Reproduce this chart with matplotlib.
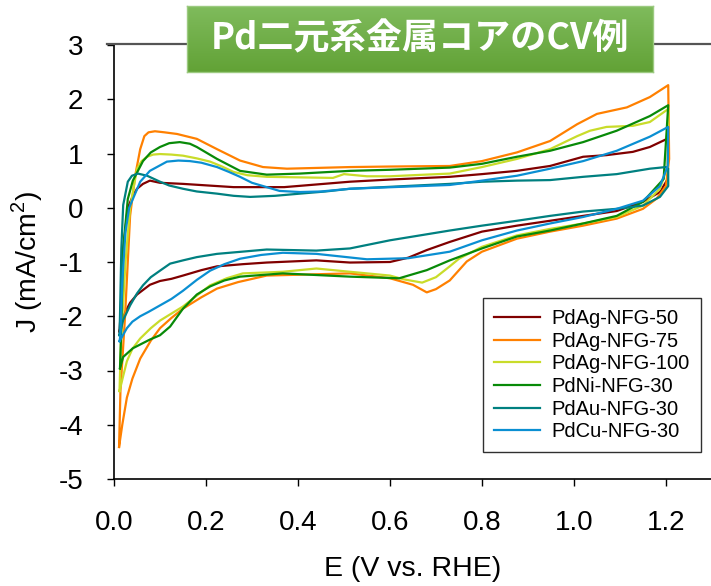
import numpy as np
import matplotlib
matplotlib.use("Agg")
import matplotlib.pyplot as plt
from matplotlib.lines import Line2D
from matplotlib.colors import LinearSegmentedColormap

plt.rcParams['font.family'] = ['Liberation Sans', 'DejaVu Sans']
plt.rcParams['mathtext.fontset'] = 'custom'
plt.rcParams['mathtext.rm'] = 'Liberation Sans'
plt.rcParams['axes.unicode_minus'] = False

title = 'Pd二元系金属コアのCV例'
labels = ['PdAg-NFG-50', 'PdAg-NFG-75', 'PdAg-NFG-100',
          'PdNi-NFG-30', 'PdAu-NFG-30', 'PdCu-NFG-30']
colors = ['#800000', '#ff8000', '#c9dc2a', '#088a08', '#008080', '#0a8fd2']

# anodic sweep (up) and cathodic sweep (dn), E in V vs RHE, J in mA/cm2
ag50_e_up = [0.012, 0.014, 0.02, 0.03, 0.04, 0.05, 0.063, 0.078, 0.10, 0.15, 0.26, 0.37,
             0.513, 0.60, 0.73, 0.80, 0.876, 0.948, 1.02, 1.071, 1.128, 1.165, 1.205]
ag50_j_up = [-2.28, -2.0, -0.75, 0.0, 0.2, 0.35, 0.44, 0.50, 0.46, 0.44, 0.38, 0.38,
             0.48, 0.52, 0.57, 0.62, 0.68, 0.77, 0.94, 0.97, 1.03, 1.12, 1.28]
ag50_e_dn = [1.205, 1.204, 1.187, 1.15, 1.093, 1.02, 0.948, 0.876, 0.80, 0.73, 0.68, 0.64,
             0.60, 0.513, 0.44, 0.332, 0.28, 0.224, 0.19, 0.15, 0.125, 0.10, 0.078, 0.05,
             0.035, 0.02, 0.012]
ag50_j_dn = [1.28, 0.53, 0.29, 0.11, -0.06, -0.15, -0.24, -0.33, -0.44, -0.63, -0.78, -0.92,
             -1.0, -1.01, -0.97, -1.01, -1.04, -1.08, -1.15, -1.25, -1.31, -1.35, -1.42, -1.6,
             -1.75, -2.0, -2.28]

ag75_e_up = [0.011, 0.014, 0.024, 0.035, 0.046, 0.057, 0.066, 0.075, 0.089, 0.11, 0.137, 0.18,
             0.224, 0.274, 0.324, 0.376, 0.513, 0.60, 0.73, 0.80, 0.876, 0.948, 1.007, 1.05,
             1.115, 1.165, 1.205]
ag75_j_up = [-4.41, -3.38, -2.0, -0.15, 0.59, 1.08, 1.32, 1.39, 1.41, 1.39, 1.36, 1.27,
             1.08, 0.87, 0.75, 0.72, 0.75, 0.76, 0.77, 0.86, 1.02, 1.23, 1.54, 1.73,
             1.85, 2.04, 2.26]
ag75_e_dn = [1.205, 1.207, 1.2, 1.18, 1.15, 1.093, 1.02, 0.948, 0.876, 0.80, 0.767, 0.73,
             0.70, 0.68, 0.65, 0.60, 0.513, 0.332, 0.27, 0.224, 0.19, 0.15, 0.125, 0.10,
             0.08, 0.057, 0.04, 0.028, 0.018, 0.011]
ag75_j_dn = [2.26, 0.9, 0.4, 0.17, -0.02, -0.2, -0.33, -0.44, -0.57, -0.81, -0.99, -1.34,
             -1.5, -1.56, -1.42, -1.3, -1.21, -1.25, -1.37, -1.49, -1.65, -1.86, -2.03, -2.22,
             -2.45, -2.78, -3.15, -3.5, -4.0, -4.41]

ag100_e_up = [0.012, 0.015, 0.025, 0.035, 0.05, 0.06, 0.072, 0.085, 0.10, 0.125, 0.15, 0.18,
              0.209, 0.235, 0.26, 0.29, 0.332, 0.476, 0.50, 0.55, 0.60, 0.65, 0.73, 0.80,
              0.876, 0.948, 1.007, 1.035, 1.071, 1.128, 1.165, 1.205]
ag100_j_up = [-3.38, -2.5, -1.0, 0.0, 0.72, 0.86, 0.94, 0.98, 0.99, 0.98, 0.96, 0.91,
              0.85, 0.76, 0.66, 0.6, 0.57, 0.55, 0.62, 0.58, 0.58, 0.6, 0.63, 0.75,
              0.9, 1.08, 1.32, 1.42, 1.49, 1.51, 1.58, 1.82]
ag100_e_dn = [1.205, 1.204, 1.187, 1.15, 1.093, 1.02, 0.948, 0.876, 0.80, 0.75, 0.73, 0.70,
              0.67, 0.63, 0.60, 0.513, 0.44, 0.367, 0.28, 0.245, 0.209, 0.18, 0.15, 0.125,
              0.10, 0.08, 0.057, 0.04, 0.028, 0.02, 0.012]
ag100_j_dn = [1.82, 0.77, 0.35, 0.04, -0.17, -0.29, -0.39, -0.51, -0.72, -0.94, -1.08, -1.28,
              -1.38, -1.32, -1.25, -1.18, -1.12, -1.18, -1.21, -1.3, -1.43, -1.62, -1.82, -1.95,
              -2.08, -2.22, -2.41, -2.6, -2.83, -3.1, -3.38]

ni30_e_up = [0.013, 0.015, 0.02, 0.03, 0.041, 0.063, 0.08, 0.10, 0.12, 0.143, 0.165, 0.18,
             0.224, 0.274, 0.332, 0.404, 0.513, 0.60, 0.73, 0.80, 0.876, 0.948, 1.02, 1.093,
             1.165, 1.205]
ni30_j_up = [-2.96, -2.46, -0.75, 0.16, 0.5, 0.86, 1.02, 1.12, 1.19, 1.21, 1.18, 1.12,
             0.9, 0.68, 0.61, 0.63, 0.68, 0.7, 0.74, 0.81, 0.94, 1.05, 1.21, 1.42,
             1.69, 1.89]
ni30_e_dn = [1.205, 1.195, 1.15, 1.093, 1.02, 0.948, 0.876, 0.80, 0.73, 0.68, 0.62, 0.513,
             0.367, 0.274, 0.24, 0.209, 0.18, 0.15, 0.122, 0.10, 0.078, 0.041, 0.02, 0.013]
ni30_j_dn = [1.89, 0.53, 0.11, -0.15, -0.29, -0.42, -0.53, -0.75, -0.97, -1.15, -1.3, -1.27,
             -1.21, -1.27, -1.34, -1.45, -1.6, -1.86, -2.19, -2.35, -2.43, -2.59, -2.75, -2.96]

au30_e_up = [0.012, 0.013, 0.016, 0.02, 0.03, 0.039, 0.052, 0.072, 0.10, 0.12, 0.15, 0.18,
             0.224, 0.26, 0.296, 0.35, 0.404, 0.46, 0.513, 0.73, 0.80, 0.876, 0.948, 1.02,
             1.093, 1.165, 1.2, 1.205]
au30_j_up = [-2.35, -2.0, -0.75, 0.05, 0.48, 0.59, 0.63, 0.59, 0.48, 0.41, 0.35, 0.3,
             0.26, 0.22, 0.2, 0.22, 0.26, 0.3, 0.35, 0.44, 0.48, 0.5, 0.51, 0.57,
             0.62, 0.72, 0.75, 0.72]
au30_e_dn = [1.205, 1.205, 1.187, 1.15, 1.093, 1.02, 0.948, 0.876, 0.80, 0.73, 0.60, 0.513,
             0.44, 0.332, 0.224, 0.18, 0.15, 0.122, 0.10, 0.08, 0.063, 0.05, 0.035, 0.02, 0.012]
au30_j_dn = [0.72, 0.4, 0.2, 0.04, -0.02, -0.07, -0.15, -0.24, -0.33, -0.42, -0.6, -0.75,
             -0.79, -0.77, -0.85, -0.91, -0.97, -1.03, -1.16, -1.28, -1.43, -1.58, -1.8,
             -2.07, -2.35]

cu30_e_up = [0.012, 0.014, 0.018, 0.025, 0.033, 0.041, 0.057, 0.078, 0.115, 0.14, 0.165, 0.19,
             0.224, 0.25, 0.274, 0.30, 0.332, 0.36, 0.404, 0.45, 0.513, 0.73, 0.80, 0.876,
             0.948, 1.02, 1.093, 1.165, 1.205]
cu30_j_up = [-2.46, -2.35, -1.36, -0.44, 0.0, 0.16, 0.48, 0.68, 0.85, 0.87, 0.86, 0.83,
             0.75, 0.66, 0.57, 0.46, 0.38, 0.31, 0.29, 0.3, 0.35, 0.42, 0.5, 0.59,
             0.72, 0.86, 1.05, 1.31, 1.49]
cu30_e_dn = [1.205, 1.204, 1.187, 1.15, 1.093, 1.02, 0.948, 0.876, 0.80, 0.73, 0.64, 0.55,
             0.44, 0.367, 0.32, 0.274, 0.24, 0.209, 0.18, 0.15, 0.125, 0.10, 0.075, 0.057,
             0.04, 0.028, 0.012]
cu30_j_dn = [1.49, 0.77, 0.4, 0.13, -0.02, -0.17, -0.29, -0.42, -0.6, -0.81, -0.93, -0.95,
             -0.85, -0.83, -0.87, -0.94, -1.04, -1.16, -1.33, -1.53, -1.68, -1.8, -1.92, -2.0,
             -2.1, -2.22, -2.46]

curves = [
    (ag50_e_up + ag50_e_dn, ag50_j_up + ag50_j_dn),
    (ag75_e_up + ag75_e_dn, ag75_j_up + ag75_j_dn),
    (ag100_e_up + ag100_e_dn, ag100_j_up + ag100_j_dn),
    (ni30_e_up + ni30_e_dn, ni30_j_up + ni30_j_dn),
    (au30_e_up + au30_e_dn, au30_j_up + au30_j_dn),
    (cu30_e_up + cu30_e_dn, cu30_j_up + cu30_j_dn),
]

W, H = 711, 586
fig = plt.figure(figsize=(W / 100, H / 100), dpi=100)
ax = fig.add_axes([114 / W, 1 - 479 / H, (W - 114) / W, (479 - 45) / H])

for (e, j), c, lab in zip(curves, colors, labels):
    ax.plot(e, j, color=c, lw=1.6, label=lab, solid_joinstyle='round')

ax.set_xlim(0, 1.298)
ax.set_ylim(-5, 3)
ax.set_xticks([0.0, 0.2, 0.4, 0.6, 0.8, 1.0, 1.2])
ax.set_xticklabels(['0.0', '0.2', '0.4', '0.6', '0.8', '1.0', '1.2'])
ax.set_yticks(range(-5, 4))
ax.tick_params(direction='out', length=5, width=1, labelsize=20, colors='black')
ax.tick_params(axis='x', pad=17)
ax.tick_params(axis='y', pad=17)
for s in ['top', 'right']:
    ax.spines[s].set_visible(False)
for s in ['left', 'bottom']:
    ax.spines[s].set_linewidth(1.2)

ax.set_xlabel('E (V vs. RHE)', fontsize=20.5, labelpad=15)
ax.set_ylabel('J (mA/cm$^2$)', fontsize=20.5, labelpad=10)

leg = ax.legend(loc='upper left', bbox_to_anchor=((483 - 114) / (W - 114), (479 - 298) / 434),
                borderaxespad=0, fontsize=14.5, frameon=True, fancybox=False,
                edgecolor='#303030', framealpha=1, handlelength=2.3, handletextpad=0.55,
                labelspacing=0.18, borderpad=0.55)
leg.get_frame().set_linewidth(1.0)

# decorative slide line and title banner
fig.add_artist(Line2D([107 / W, 1.0], [1 - 44 / H] * 2, color='#555555', lw=1.6, zorder=1))
bx = fig.add_axes([187 / W, 1 - 72 / H, 466 / W, 66 / H], zorder=5)
cmap = LinearSegmentedColormap.from_list('g', ['#7fbb5c', '#62a236'])
bx.imshow(np.linspace(0, 1, 50).reshape(-1, 1), aspect='auto', cmap=cmap, extent=[0, 1, 0, 1])
bx.set_xlim(0, 1)
bx.set_ylim(0, 1)
bx.set_xticks([])
bx.set_yticks([])
for s in bx.spines.values():
    s.set_color('#9cca80')
    s.set_linewidth(1.0)
bx.text(0.5, 0.5, title, ha='center', va='center', color='white', fontsize=26,
        fontweight='bold', family=['Noto Sans CJK JP', 'DejaVu Sans'])

fig.savefig('out.png', dpi=100)
